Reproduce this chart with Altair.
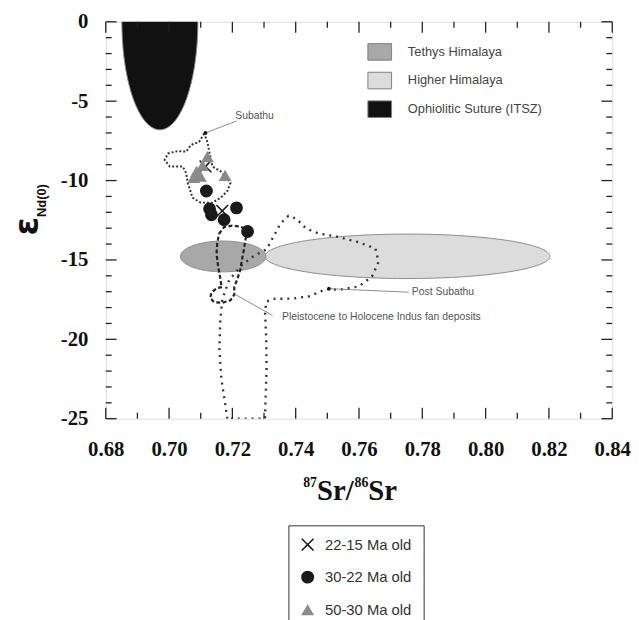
import altair as alt
import numpy as np
import pandas as pd

# ---------------- data ----------------
age_labels = ["22-15 Ma old", "30-22 Ma old", "50-30 Ma old"]
cross_sr = [0.7115, 0.7168]
cross_nd = [-9.11, -11.91]
circle_sr = [0.7118, 0.7128, 0.7134, 0.7174, 0.7213, 0.7248]
circle_nd = [-10.66, -11.78, -12.15, -12.47, -11.72, -13.21]
tri_sr = [0.7121, 0.7106, 0.7087, 0.7078, 0.7099, 0.7177]
tri_nd = [-8.49, -9.05, -9.42, -9.80, -9.73, -9.67]

field_names = ["Tethys Himalaya", "Higher Himalaya", "Ophiolitic Suture (ITSZ)"]
field_sr = [0.7171, 0.7753, 0.6971]      # centre 87Sr/86Sr
field_nd = [-14.78, -14.77, 0.0]          # centre eNd
field_rsr = [0.0135, 0.0450, 0.0120]      # half width
field_rnd = [0.97, 1.40, 6.80]            # half height
field_colors = ["#a8a8a8", "#dcdcdc", "#111111"]

subathu_sr = [0.7111, 0.7095, 0.7069, 0.7054, 0.7028, 0.6997, 0.6986, 0.7002, 0.7043, 0.7054,
              0.7059, 0.7074, 0.7100, 0.7137, 0.7163, 0.7184, 0.7194, 0.7163, 0.7137, 0.7127,
              0.7121, 0.7111]
subathu_nd = [-7.04, -7.56, -7.76, -8.18, -8.14, -8.29, -8.70, -9.11, -9.11, -9.53,
              -10.15, -11.08, -11.39, -11.39, -11.08, -10.66, -10.15, -9.42, -9.11, -8.18,
              -7.56, -7.04]

indus_sr = [0.7158, 0.7173, 0.7199, 0.7225, 0.7241, 0.7246, 0.7241, 0.7236, 0.7230, 0.7225,
            0.7215, 0.7206, 0.7206, 0.7194, 0.7168, 0.7142, 0.7130, 0.7134, 0.7152, 0.7168,
            0.7165, 0.7161, 0.7155, 0.7150, 0.7152, 0.7158]
indus_nd = [-13.35, -12.94, -12.84, -12.90, -13.04, -13.25, -13.77, -14.39, -15.01, -15.63,
            -16.25, -16.71, -17.19, -17.54, -17.70, -17.66, -17.39, -17.04, -16.77, -16.71,
            -16.57, -16.05, -15.43, -14.60, -13.98, -13.35]

post_sr = [0.7184, 0.7177, 0.7165, 0.7159, 0.7162, 0.7168, 0.7190, 0.7230, 0.7271, 0.7308,
           0.7330, 0.7352, 0.7377, 0.7402, 0.7433, 0.7474, 0.7527, 0.7599, 0.7652, 0.7662,
           0.7641, 0.7599, 0.7537, 0.7496, 0.7443, 0.7392, 0.7329, 0.7308, 0.7303, 0.7307,
           0.7308, 0.7305, 0.7303, 0.7184]
post_nd = [-25.0, -24.02, -22.47, -20.60, -18.74, -17.50, -16.25, -15.32, -14.70, -14.33,
           -13.52, -12.71, -12.22, -12.40, -13.02, -13.34, -13.52, -13.88, -14.29, -15.12,
           -16.05, -16.67, -16.88, -16.83, -17.29, -17.43, -17.45, -17.62, -18.24, -19.98,
           -21.84, -23.71, -25.0, -25.0]

note_text = ["Subathu", "Post Subathu", "Pleistocene to Holocene Indus fan deposits"]
note_sr = [0.7209, 0.7767, 0.7357]
note_nd = [-5.95, -17.05, -18.62]
pointer_from_sr = [0.7213, 0.7757, 0.7327]
pointer_from_nd = [-6.25, -17.03, -18.50]
pointer_to_sr = [0.7115, 0.7505, 0.7207]
pointer_to_nd = [-7.00, -16.81, -17.15]

x_major = [0.68, 0.70, 0.72, 0.74, 0.76, 0.78, 0.80, 0.82, 0.84]
x_minor = [0.69, 0.71, 0.73, 0.75, 0.77, 0.79, 0.81, 0.83]
y_major = [0, -5, -10, -15, -20, -25]
y_minor = [v for v in range(-24, 0) if v % 5 != 0]

# ---------------- chart ----------------
W, H = 513, 402
xs = alt.Scale(domain=[0.68, 0.84], nice=False, zero=False)
ys = alt.Scale(domain=[-25, 0], nice=False, zero=False)
xaxis = alt.Axis(values=x_major, format=".2f", title=None, ticks=False, domain=False, grid=False,
                 labelFont="Liberation Serif", labelFontWeight="bold", labelFontSize=21,
                 labelColor="#111", labelPadding=20, labelFlush=False, labelOverlap=False)
yaxis = alt.Axis(values=y_major, labelExpr="'' + datum.value", title=None, ticks=False,
                 domain=False, grid=False, labelFont="Liberation Serif", labelFontWeight="bold",
                 labelFontSize=21, labelColor="#111", labelPadding=18, labelFlush=False,
                 labelOverlap=False)


def X(f):
    return alt.X(f"{f}:Q", scale=xs, axis=xaxis)


def Y(f):
    return alt.Y(f"{f}:Q", scale=ys, axis=yaxis, stack=None)


# ellipses
rows = []
theta = np.linspace(0, np.pi, 121)
for k in [2, 1, 0]:
    for t in theta:
        rows.append({"name": field_names[k], "order": k,
                     "sr": field_sr[k] + field_rsr[k] * np.cos(t),
                     "top": field_nd[k] + field_rnd[k] * np.sin(t),
                     "bot": field_nd[k] - field_rnd[k] * np.sin(t)})
ell = pd.DataFrame(rows)
RECT = "M-1,-0.7H1V0.7H-1Z"
ellipses = alt.Chart(ell).mark_area(clip=True, stroke="#8a8a8a", strokeWidth=1, opacity=1).encode(
    x=X("sr"), y=Y("top"), y2="bot",
    detail="name:N",
    fill=alt.Fill("name:N", scale=alt.Scale(domain=field_names, range=field_colors),
                  legend=alt.Legend(orient="none", legendX=265, legendY=18, title=None,
                                    symbolType=RECT, symbolSize=576, symbolStrokeColor="#808080",
                                    symbolStrokeWidth=1, symbolOpacity=1,
                                    labelFont="Liberation Sans", labelFontSize=13,
                                    labelFontWeight="normal",
                                    labelColor="#444", labelOffset=16, rowPadding=6, padding=0)),
)


def outline(sr, nd, dash, width, color):
    df = pd.DataFrame({"sr": sr, "nd": nd, "i": range(len(sr))})
    return alt.Chart(df).mark_line(strokeDash=dash, strokeWidth=width, color=color, clip=True).encode(
        x=X("sr"), y=Y("nd"), order="i:Q")


sub_line = outline(subathu_sr, subathu_nd, [2, 2], 2, "#333")
indus_line = outline(indus_sr, indus_nd, [4, 2.5], 2.2, "#222")
post_line = outline(post_sr, post_nd, [2, 5], 2.4, "#333")

ptr = pd.DataFrame({
    "id": list(range(3)) * 2,
    "sr": pointer_from_sr + pointer_to_sr,
    "nd": pointer_from_nd + pointer_to_nd,
    "i": [0] * 3 + [1] * 3,
})
pointers = alt.Chart(ptr).mark_line(color="#8a8a8a", strokeWidth=1).encode(
    x=X("sr"), y=Y("nd"), detail="id:N", order="i:Q")
tips = alt.Chart(pd.DataFrame({"sr": pointer_to_sr[:2], "nd": pointer_to_nd[:2]})).mark_point(
    filled=True, color="#111", size=14, opacity=1).encode(x=X("sr"), y=Y("nd"))

notes = alt.Chart(pd.DataFrame({"t": note_text, "sr": note_sr, "nd": note_nd})).mark_text(
    align="left", baseline="middle", font="Liberation Sans", fontSize=10.5, color="#555").encode(
    x=X("sr"), y=Y("nd"), text="t:N")

# samples
pts = pd.DataFrame({
    "sr": cross_sr + circle_sr + tri_sr,
    "nd": cross_nd + circle_nd + tri_nd,
    "age": [age_labels[0]] * len(cross_sr) + [age_labels[1]] * len(circle_sr)
           + [age_labels[2]] * len(tri_sr),
})
XPATH = ("M0,-0.17L0.83,-1L1,-0.83L0.17,0L1,0.83L0.83,1L0,0.17L-0.83,1L-1,0.83L-0.17,0"
         "L-1,-0.83L-0.83,-1Z")
leg2 = dict(orient="none", legendX=185, legendY=510, title=None, strokeColor="#333",
            padding=12, labelFont="Liberation Sans", labelFontSize=15, labelFontWeight="normal",
            labelColor="#333", labelOffset=10, rowPadding=17, symbolOpacity=1,
            symbolStrokeWidth=0, symbolSize=170)
points = alt.Chart(pts).mark_point(filled=True, opacity=1, size=170, strokeWidth=0).encode(
    x=X("sr"), y=Y("nd"),
    shape=alt.Shape("age:N", scale=alt.Scale(domain=age_labels, range=[XPATH, "circle", "triangle-up"]),
                    legend=alt.Legend(**leg2)),
    color=alt.Color("age:N", scale=alt.Scale(domain=age_labels, range=["#1a1a1a", "#1a1a1a", "#8a8a8a"]),
                    legend=alt.Legend(**leg2)),
)


# inward ticks
def yticks(vals, x0, x1):
    return alt.Chart(pd.DataFrame({"v": vals})).mark_rule(color="#222", strokeWidth=1.3).encode(
        y=Y("v"), x=alt.value(x0), x2=alt.value(x1))


def xticks(vals, y0, y1):
    return alt.Chart(pd.DataFrame({"v": vals})).mark_rule(color="#222", strokeWidth=1.3).encode(
        x=X("v"), y=alt.value(y0), y2=alt.value(y1))


ticks = [
    yticks(y_major, 0, 11), yticks(y_minor, 0, 6),
    yticks(y_major, W, W - 11), yticks(y_minor, W, W - 6),
    xticks(x_major, H, H - 11), xticks(x_minor, H, H - 6),
    xticks(x_major, 0, 11), xticks(x_minor, 0, 6),
]


def label(text, x, y, size, font, angle=0, align="left", baseline="alphabetic", weight="bold"):
    return alt.Chart(pd.DataFrame({"t": [text]})).mark_text(
        font=font, fontSize=size, fontWeight=weight, angle=angle, align=align,
        baseline=baseline, color="#111").encode(x=alt.value(x), y=alt.value(y), text="t:N")


titles = [
    label("87", 200, 471, 14, "Liberation Serif"),
    label("Sr/", 214, 484, 29, "Liberation Serif"),
    label("86", 252, 471, 14, "Liberation Serif"),
    label("Sr", 266, 484, 29, "Liberation Serif"),
    label("ε", -79, 207, 34, "DejaVu Sans", angle=270, align="center", baseline="middle"),
    label("Nd(0)", -65, 181, 13, "Liberation Sans", angle=270, align="center", baseline="middle"),
]

chart = alt.layer(
    ellipses, post_line, indus_line, sub_line, pointers, tips, notes, points, *ticks, *titles
).properties(
    width=W, height=H,
    padding={"left": 99, "top": 10, "right": 19, "bottom": 208},
    autosize=alt.AutoSizeParams(type="none"),
).configure_view(stroke="#222", strokeWidth=1.5).configure(background="white")

chart.save("out.html", embed_options={"renderer": "svg", "actions": False})
